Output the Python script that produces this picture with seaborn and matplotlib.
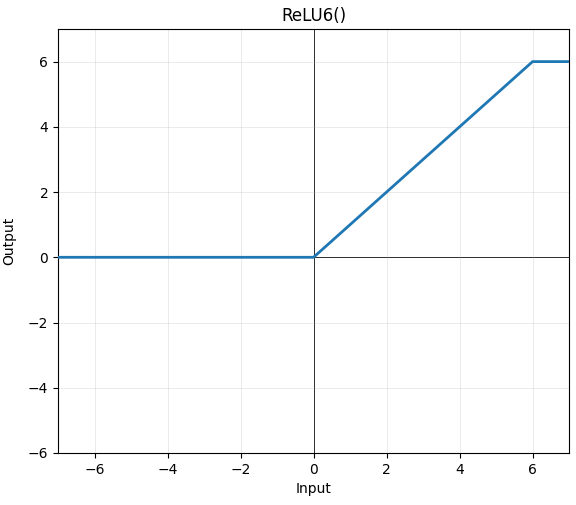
import matplotlib
matplotlib.use("Agg")
import matplotlib.pyplot as plt
import seaborn as sns
import pandas as pd

x_input = [-7, 0, 6, 7]
y_output = [0, 0, 6, 6]
x_ticks = [-6, -4, -2, 0, 2, 4, 6]
y_ticks = [-6, -4, -2, 0, 2, 4, 6]

plt.rcParams['font.family'] = ['DejaVu Sans']
fig = plt.figure(figsize=(5.76, 5.05), dpi=100)
ax = fig.add_axes([0.1007, 0.103, 0.8873, 0.8396])
df = pd.DataFrame({"Input": x_input, "Output": y_output})
ax.axhline(0, color="black", linewidth=0.7, zorder=1)
ax.axvline(0, color="black", linewidth=0.7, zorder=1)
sns.lineplot(data=df, x="Input", y="Output", ax=ax, color="#1f77b4", linewidth=2, zorder=3)
ax.set_xlim(-7, 7)
ax.set_ylim(-6, 7)
ax.set_xticks(x_ticks)
ax.set_yticks(y_ticks)
ax.grid(True, alpha=0.3, linewidth=0.6)
ax.set_title("ReLU6()")
ax.set_xlabel("Input")
ax.set_ylabel("Output", labelpad=8)
fig.savefig("out.png", dpi=100)
